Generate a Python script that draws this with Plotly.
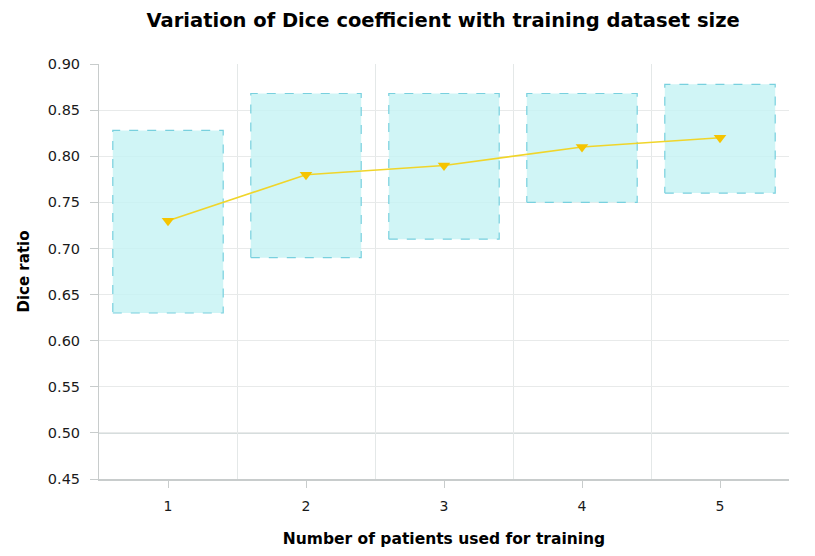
import plotly.graph_objects as go

patients = [1, 2, 3, 4, 5]
dice_mean = [0.73, 0.78, 0.79, 0.81, 0.82]
dice_low = [0.63, 0.69, 0.71, 0.75, 0.76]
dice_high = [0.828, 0.868, 0.868, 0.868, 0.878]

fig = go.Figure()

half = 0.4
for p, lo, hi in zip(patients, dice_low, dice_high):
    fig.add_trace(go.Scatter(
        x=[p - half, p + half, p + half, p - half, p - half],
        y=[lo, lo, hi, hi, lo],
        mode="lines", fill="toself",
        fillcolor="rgba(196,243,244,0.8)",
        line=dict(color="#78d0de", width=1.2, dash="dash"),
        hoverinfo="skip", showlegend=False,
    ))

fig.add_trace(go.Scatter(
    x=patients, y=dice_mean, mode="lines+markers",
    line=dict(color="#f0d52a", width=1.6),
    marker=dict(symbol="triangle-down", size=11, color="#f5c400"),
    showlegend=False,
))

fig.add_hline(y=0.50, line=dict(color="#c9d2d2", width=1.5), layer="below")

fig.update_layout(
    width=815, height=556,
    margin=dict(l=91, r=34, t=56, b=85),
    paper_bgcolor="white", plot_bgcolor="white",
    title=dict(text="<b>Variation of Dice coefficient with training dataset size</b>",
               x=0.534, xanchor="center", y=0.978, yanchor="middle",
               font=dict(family="DejaVu Sans", size=19.5, color="black")),
    font=dict(family="DejaVu Sans", color="#222"),
)

fig.update_xaxes(
    range=[0.5, 5.5], tickvals=patients, ticktext=[str(p) for p in patients],
    showgrid=False, ticks="outside", ticklen=7, tickcolor="#c8cccc",
    showline=True, linecolor="#c8cccc", linewidth=2,
    tickfont=dict(size=14, color="#1a1a1a"), ticklabelstandoff=6,
    minor=dict(tickvals=[1.5, 2.5, 3.5, 4.5, 5.5], showgrid=True,
               gridcolor="#e4e8e8", ticks=""),
    title=dict(text="<b>Number of patients used for training</b>",
               font=dict(size=15.5, color="black"), standoff=20),
    zeroline=False,
)
fig.update_yaxes(
    range=[0.45, 0.90], dtick=0.05, tickformat=".2f",
    showgrid=True, gridcolor="#e8eaea",
    ticks="outside", ticklen=8, tickcolor="#c8cccc",
    showline=True, linecolor="#c8cccc", linewidth=1,
    tickfont=dict(size=14.5, color="#1a1a1a"), ticklabelstandoff=7,
    title=dict(text="<b>Dice ratio</b>", font=dict(size=15, color="black"), standoff=14),
    zeroline=False,
)

fig.write_html("out.html")
